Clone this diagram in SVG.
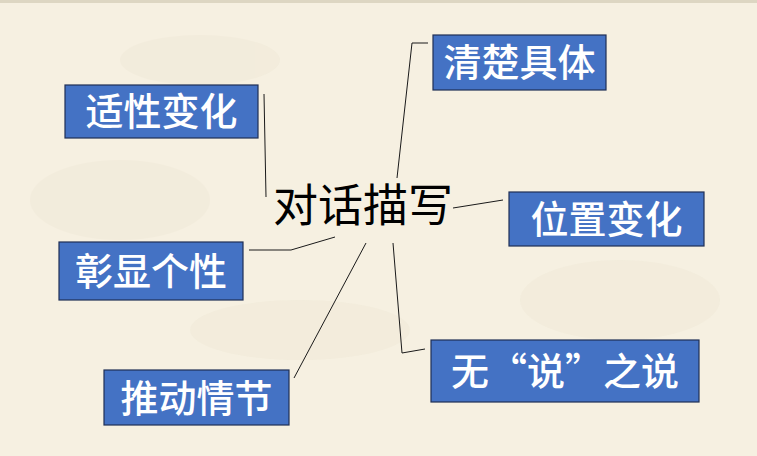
<svg xmlns="http://www.w3.org/2000/svg" width="757" height="456" viewBox="0 0 757 456">
<style>
.box{fill:#4472c4;stroke:#1f2f55;stroke-width:1.2}
.lbl{fill:#ffffff;font-family:"Noto Sans CJK SC","Noto Sans",sans-serif;font-size:38px;font-weight:500;text-anchor:middle}
.ctr{fill:#000000;font-family:"Noto Sans CJK SC","Noto Sans",sans-serif;font-size:45px;font-weight:400;text-anchor:middle}
.ln{fill:none;stroke:#1a1a1a;stroke-width:1}
</style>
<rect x="0" y="0" width="757" height="456" fill="#f6f0e1"/>
<g opacity="0.1" fill="#d8ccb4">
<ellipse cx="120" cy="200" rx="90" ry="40"/>
<ellipse cx="300" cy="330" rx="110" ry="30"/>
<ellipse cx="620" cy="300" rx="100" ry="40"/>
<ellipse cx="200" cy="60" rx="80" ry="25"/>
</g>
<rect x="0" y="0" width="757" height="3" fill="#ddd6c2"/>
<g id="connectors">
<polyline class="ln" points="264,94 266,197"/>
<polyline class="ln" points="428,43 412,43 397,178"/>
<polyline class="ln" points="453,208 503,200"/>
<polyline class="ln" points="393,243 402,353 425,349"/>
<polyline class="ln" points="249,250 291,250 335,237"/>
<polyline class="ln" points="366,243 294,378"/>
</g>
<g id="center">
<text class="ctr" x="363" y="222">对话描写</text>
</g>
<g id="n1">
<rect class="box" x="65" y="85" width="193" height="53"/>
<text class="lbl" x="161.5" y="125">适性变化</text>
</g>
<g id="n2">
<rect class="box" x="433" y="35" width="173" height="55"/>
<text class="lbl" x="519.5" y="76">清楚具体</text>
</g>
<g id="n3">
<rect class="box" x="509" y="192" width="195" height="54"/>
<text class="lbl" x="606.5" y="233">位置变化</text>
</g>
<g id="n4">
<rect class="box" x="59" y="242" width="184" height="58"/>
<text class="lbl" x="151" y="285">彰显个性</text>
</g>
<g id="n5">
<rect class="box" x="104" y="370" width="185" height="55"/>
<text class="lbl" x="196.5" y="412">推动情节</text>
</g>
<g id="n6">
<rect class="box" x="431" y="340" width="268" height="62"/>
<text class="lbl" x="565" y="385">无“说”之说</text>
</g>
</svg>
